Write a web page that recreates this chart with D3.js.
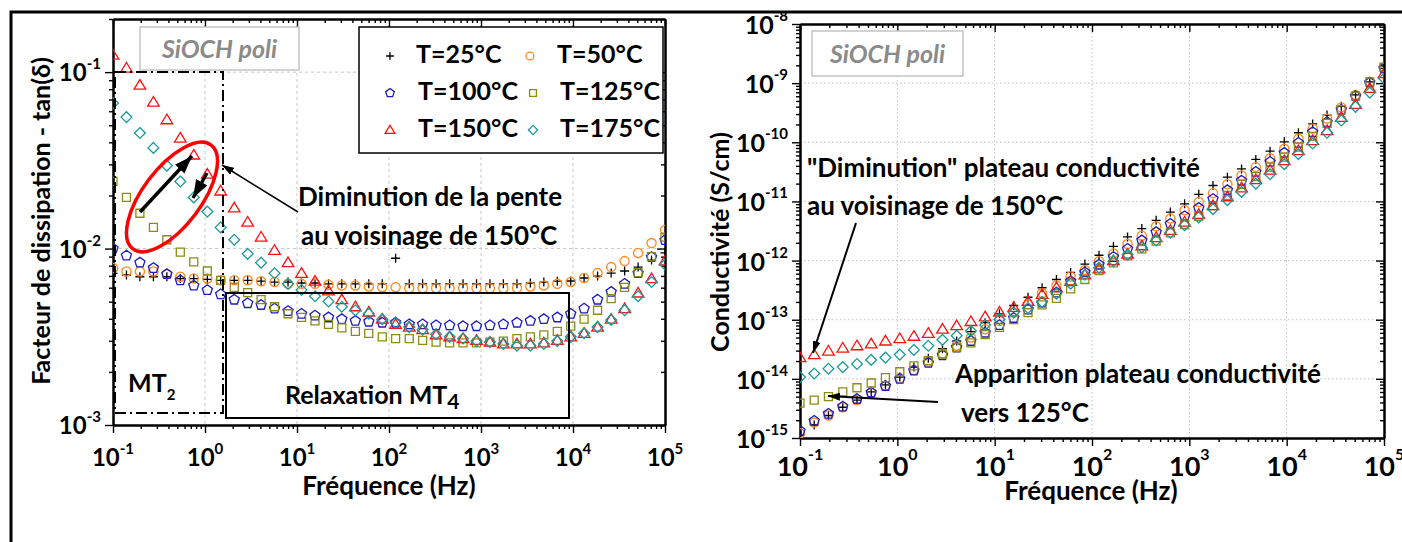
<!DOCTYPE html>
<html><head><meta charset="utf-8">
<script src="https://cdn.jsdelivr.net/npm/d3@7"></script>
<style>
body{margin:0;background:#fff}
svg{display:block}
text{font-family:Lato,"Open Sans",sans-serif;font-weight:bold;fill:#000}
</style>
</head><body>
<svg id="c" width="1402" height="542"></svg>
<script>
// ---------- DATA ----------
const freq = [0.1,0.14,0.196,0.275,0.385,0.539,0.755,1.06,1.48,2.08,2.91,4.07,5.7,7.99,11.2,15.7,22,30.7,43.1,60.3,84.5,118,166,232,325,456,638,894,1250,1750,2460,3440,4820,6750,9450,13200,18500,26000,36400,51000,71400,100000];
const seriesNames = ["T=25°C","T=50°C","T=100°C","T=125°C","T=150°C","T=175°C"];

// dissipation factor tan(delta)
const tan25  = [0.00724,0.00708,0.00692,0.00692,0.00692,0.00676,0.00676,0.00668,0.00661,0.00661,0.00661,0.00653,0.00646,0.00646,0.00638,0.00638,0.00631,0.00631,0.00631,0.00631,0.00631,0.00881,0.00631,0.00631,0.00631,0.00631,0.00631,0.00631,0.00631,0.00631,0.00631,0.00638,0.00646,0.00653,0.00655,0.00681,0.00698,0.00726,0.00746,0.00785,0.00861,0.00944];
const tan50  = [0.00776,0.00741,0.00741,0.00741,0.00716,0.00692,0.00676,0.00676,0.00661,0.00661,0.00661,0.00653,0.00646,0.00631,0.00631,0.00631,0.00624,0.00617,0.00617,0.00610,0.00603,0.00603,0.00596,0.00596,0.00596,0.00596,0.00596,0.00596,0.00596,0.00596,0.00596,0.00610,0.00617,0.00631,0.00646,0.00681,0.00726,0.00785,0.00849,0.00944,0.01074,0.01274];
const tan100 = [0.0100,0.00912,0.00832,0.00776,0.00716,0.00661,0.00617,0.00582,0.00550,0.00513,0.00490,0.00479,0.00457,0.00442,0.00427,0.00417,0.00407,0.00398,0.00389,0.00385,0.00380,0.00380,0.00372,0.00372,0.00367,0.00367,0.00363,0.00363,0.00367,0.00372,0.00380,0.00389,0.00398,0.00407,0.00427,0.00457,0.00513,0.00568,0.00631,0.00726,0.00895,0.01117];
const tan125 = [0.0240,0.0195,0.01585,0.01318,0.01122,0.00955,0.00841,0.00746,0.00661,0.00603,0.00562,0.00513,0.00468,0.00427,0.00407,0.00389,0.00372,0.00355,0.00339,0.00331,0.00316,0.00309,0.00309,0.00302,0.00295,0.00292,0.00292,0.00292,0.00295,0.00299,0.00309,0.00316,0.00324,0.00339,0.00363,0.00398,0.00447,0.00520,0.00603,0.00730,0.00899,0.01161];
const tan150 = [0.1247,0.1054,0.0843,0.0676,0.0537,0.0423,0.0339,0.0264,0.0212,0.0170,0.01413,0.01161,0.00977,0.00832,0.00724,0.00653,0.00575,0.00513,0.00468,0.00437,0.00398,0.00372,0.00359,0.00347,0.00324,0.00316,0.00309,0.00302,0.00295,0.00288,0.00288,0.00288,0.00292,0.00302,0.00316,0.00331,0.00359,0.00398,0.00457,0.00560,0.00676,0.00851];
const tan175 = [0.0667,0.0556,0.0452,0.0372,0.0295,0.0240,0.0195,0.0162,0.01318,0.01122,0.00933,0.00832,0.00724,0.00631,0.00582,0.00537,0.00501,0.00468,0.00447,0.00427,0.00398,0.00380,0.00359,0.00347,0.00327,0.00316,0.00309,0.00299,0.00295,0.00288,0.00282,0.00282,0.00288,0.00299,0.00316,0.00331,0.00359,0.00394,0.00447,0.00537,0.00646,0.00813];

// conductivity (S/cm)
const sig25  = [1.12e-15,1.66e-15,2.40e-15,3.31e-15,4.37e-15,6.03e-15,7.94e-15,1.07e-14,1.58e-14,2.24e-14,3.24e-14,4.37e-14,6.31e-14,8.91e-14,1.26e-13,1.74e-13,2.40e-13,3.47e-13,4.79e-13,6.31e-13,8.71e-13,1.23e-12,1.74e-12,2.51e-12,3.47e-12,4.79e-12,6.61e-12,9.12e-12,1.32e-11,1.86e-11,2.57e-11,3.55e-11,5.13e-11,7.08e-11,1.02e-10,1.45e-10,2.04e-10,2.88e-10,4.07e-10,6.31e-10,1.05e-9,1.78e-9];
const sig50  = [1.20e-15,1.82e-15,2.40e-15,3.31e-15,4.37e-15,5.75e-15,7.59e-15,1.02e-14,1.41e-14,1.95e-14,2.69e-14,3.63e-14,5.01e-14,6.92e-14,9.55e-14,1.32e-13,1.82e-13,2.82e-13,3.80e-13,5.37e-13,6.92e-13,9.77e-13,1.32e-12,1.91e-12,2.63e-12,3.80e-12,5.13e-12,7.08e-12,9.77e-12,1.38e-11,1.95e-11,2.75e-11,3.80e-11,5.37e-11,7.76e-11,1.15e-10,1.70e-10,2.51e-10,3.89e-10,6.31e-10,1.05e-9,1.86e-9];
const sig100 = [1.32e-15,1.95e-15,2.57e-15,3.39e-15,4.57e-15,5.89e-15,7.59e-15,1.00e-14,1.38e-14,1.86e-14,2.51e-14,3.39e-14,4.37e-14,6.03e-14,8.13e-14,1.07e-13,1.48e-13,1.95e-13,2.88e-13,4.47e-13,6.31e-13,8.51e-13,1.15e-12,1.58e-12,2.19e-12,3.02e-12,4.17e-12,5.62e-12,7.76e-12,1.10e-11,1.55e-11,2.24e-11,3.16e-11,4.68e-11,6.61e-11,9.77e-11,1.48e-10,2.19e-10,3.55e-10,6.03e-10,1.02e-9,1.78e-9];
const sig125 = [3.89e-15,4.37e-15,5.01e-15,6.03e-15,7.08e-15,8.51e-15,1.05e-14,1.32e-14,1.66e-14,2.04e-14,2.63e-14,3.39e-14,4.07e-14,5.62e-14,7.41e-14,1.00e-13,1.32e-13,1.78e-13,2.29e-13,3.31e-13,4.79e-13,6.76e-13,9.12e-13,1.20e-12,1.58e-12,2.14e-12,2.95e-12,4.07e-12,5.62e-12,8.51e-12,1.26e-11,1.95e-11,2.63e-11,3.80e-11,5.62e-11,8.32e-11,1.26e-10,2.09e-10,3.55e-10,6.03e-10,1.05e-9,1.86e-9];
const sig150 = [2.29e-14,2.57e-14,2.95e-14,3.31e-14,3.63e-14,3.89e-14,4.37e-14,4.79e-14,5.25e-14,5.89e-14,6.92e-14,7.94e-14,9.33e-14,1.12e-13,1.35e-13,1.62e-13,2.04e-13,2.69e-13,3.47e-13,4.47e-13,5.75e-13,7.24e-13,1.00e-12,1.29e-12,1.78e-12,2.45e-12,3.24e-12,4.47e-12,6.03e-12,8.51e-12,1.20e-11,1.70e-11,2.34e-11,3.39e-11,4.90e-11,7.24e-11,1.07e-10,1.58e-10,2.63e-10,4.37e-10,8.13e-10,1.45e-9];
const sig175 = [1.07e-14,1.23e-14,1.48e-14,1.58e-14,1.78e-14,2.09e-14,2.29e-14,2.57e-14,3.09e-14,3.63e-14,4.57e-14,5.37e-14,6.46e-14,8.13e-14,1.02e-13,1.32e-13,1.58e-13,2.00e-13,2.75e-13,4.07e-13,5.75e-13,7.59e-13,9.77e-13,1.26e-12,1.66e-12,2.19e-12,2.95e-12,3.98e-12,5.37e-12,7.41e-12,1.05e-11,1.45e-11,2.00e-11,2.88e-11,4.27e-11,6.31e-11,9.55e-11,1.45e-10,2.34e-10,3.98e-10,6.92e-10,1.20e-9];

const xTickExps = [-1,0,1,2,3,4,5];
const yTickExpsLeft = [-3,-2,-1];
const yTickExpsRight = [-15,-14,-13,-12,-11,-10,-9,-8];

// ---------- STYLE ----------
const styles = [
  {shape:"plus",     color:"#000000"},
  {shape:"circle",   color:"#ff8a1f"},
  {shape:"pentagon", color:"#1c1cc4"},
  {shape:"square",   color:"#8c8c14"},
  {shape:"triangle", color:"#ff1010"},
  {shape:"diamond",  color:"#1a9a9a"}
];
function symPath(shape, k){
  k = k || 1;
  switch(shape){
    case "plus": { const s=4.5*k; return `M${-s},0H${s}M0,${-s}V${s}`; }
    case "circle": { const r=4.6*k; return `M${r},0A${r},${r} 0 1,1 ${-r},0A${r},${r} 0 1,1 ${r},0Z`; }
    case "pentagon": { const r=5.3*k; let p=""; for(let i=0;i<5;i++){const a=-Math.PI/2+i*2*Math.PI/5; p+=(i?"L":"M")+(r*Math.cos(a)).toFixed(2)+","+(r*Math.sin(a)).toFixed(2);} return p+"Z"; }
    case "square": { const h=4*k; return `M${-h},${-h}H${h}V${h}H${-h}Z`; }
    case "triangle": { const a=5.6*k, b=5.8*k, c=4*k; return `M0,${-a}L${b},${c}L${-b},${c}Z`; }
    case "diamond": { const d=5.4*k; return `M0,${-d}L${d},0L0,${d}L${-d},0Z`; }
  }
}

const svg = d3.select("#c");
svg.append("rect").attr("width",1402).attr("height",542).attr("fill","#fff");
const defs = svg.append("defs");
function arrowMarker(id, w, h){
  defs.append("marker").attr("id",id).attr("markerUnits","userSpaceOnUse")
    .attr("markerWidth",w).attr("markerHeight",h).attr("refX",w).attr("refY",h/2)
    .attr("orient","auto").append("path").attr("d",`M0,0L${w},${h/2}L0,${h}Z`).attr("fill","#000");
}
arrowMarker("ah", 12, 8);
arrowMarker("ahBig", 18, 13);

function minorTicks(e0, e1){
  const out=[];
  for(let e=e0;e<e1;e++) for(let m=2;m<=9;m++) out.push(m*Math.pow(10,e));
  return out;
}

function panel(o){
  const g = svg.append("g");
  const x = d3.scaleLog().domain([0.1,1e5]).range([o.x0,o.x1]);
  const y = d3.scaleLog().domain(o.ydom).range([o.y1,o.y0]);
  const majX = xTickExps.map(e=>Math.pow(10,e));
  const minX = minorTicks(-1,5);
  const majY = o.yExps.map(e=>Math.pow(10,e));
  const minY = minorTicks(Math.floor(Math.log10(o.ydom[0])), Math.ceil(Math.log10(o.ydom[1]))).filter(v=>v>=o.ydom[0]&&v<=o.ydom[1]);

  // grid
  const grid = g.append("g").attr("stroke",o.gridColor).attr("stroke-width",1).attr("stroke-dasharray",o.gridDash);
  majX.filter(v=>v>0.1&&v<1e5).forEach(v=>grid.append("line").attr("x1",x(v)).attr("x2",x(v)).attr("y1",o.y0).attr("y2",o.y1));
  majY.filter(v=>y(v)>o.y0+2&&y(v)<o.y1-2).forEach(v=>grid.append("line").attr("y1",y(v)).attr("y2",y(v)).attr("x1",o.x0).attr("x2",o.x1));

  // axes
  function ax(axisGen, transform, vals, size){
    const a = g.append("g").attr("transform",transform)
      .call(axisGen.tickValues(vals).tickSizeInner(size).tickSizeOuter(0).tickFormat(""));
    a.selectAll(".tick line").attr("stroke","#000").attr("stroke-width",1.4);
    a.select(".domain").attr("stroke","#000").attr("stroke-width",2);
    return a;
  }
  ax(d3.axisBottom(x), `translate(0,${o.y1})`, majX, 8);
  ax(d3.axisBottom(x), `translate(0,${o.y1})`, minX, 4);
  ax(d3.axisTop(x), `translate(0,${o.y0})`, majX, -8);
  ax(d3.axisTop(x), `translate(0,${o.y0})`, minX, -4);
  ax(d3.axisLeft(y), `translate(${o.x0},0)`, majY, 8);
  ax(d3.axisLeft(y), `translate(${o.x0},0)`, minY, 4);
  ax(d3.axisRight(y), `translate(${o.x1},0)`, majY, -8);
  ax(d3.axisRight(y), `translate(${o.x1},0)`, minY, -4);

  // tick labels
  majX.forEach((v,i)=>{
    const t = g.append("text").attr("x",x(v)).attr("y",o.xLabY).attr("text-anchor","middle").style("font-size",o.xfs+"px");
    t.append("tspan").text("10");
    t.append("tspan").attr("dy",o.xSupDy).style("font-size",o.xsfs+"px").text(xTickExps[i]);
  });
  majY.forEach((v,i)=>{
    const t = g.append("text").attr("x",o.yLabX).attr("y",y(v)+o.yLabOff).attr("text-anchor","end").style("font-size",o.yfs+"px");
    t.append("tspan").text("10");
    t.append("tspan").attr("dy",o.ySupDy).style("font-size",o.ysfs+"px").text(o.yExps[i]);
  });
  // axis titles
  g.append("text").attr("x",o.xTitleX).attr("y",o.xTitleY).attr("text-anchor","middle").style("font-size",o.xTitleFs+"px").text("Fréquence (Hz)");
  g.append("text").attr("transform",`translate(${o.yTitleX},${o.yTitleY}) rotate(-90)`).attr("text-anchor","middle").style("font-size",o.yTitleFs+"px").text(o.yTitle);

  // data
  const cid = "clip"+o.id;
  defs.append("clipPath").attr("id",cid).append("rect").attr("x",o.x0).attr("y",o.y0).attr("width",o.x1-o.x0).attr("height",o.y1-o.y0);
  const dg = g.append("g").attr("clip-path",`url(#${cid})`);
  o.series.forEach((vals,si)=>{
    const st = styles[si];
    dg.append("g").selectAll("path").data(vals.map((v,i)=>[freq[i],v])).join("path")
      .attr("transform",d=>`translate(${x(d[0])},${y(d[1])})`)
      .attr("d",symPath(st.shape,o.symK))
      .attr("fill","none").attr("stroke",st.color).attr("stroke-width",1.3);
  });
  return {g,x,y};
}

function sampleBox(x0,y0,x1,y1){
  svg.append("rect").attr("x",x0).attr("y",y0).attr("width",x1-x0).attr("height",y1-y0)
    .attr("fill","#fff").attr("stroke","#c4c4c4").attr("stroke-width",1.5);
  svg.append("text").attr("x",(x0+x1)/2).attr("y",(y0+y1)/2+9).attr("text-anchor","middle")
    .style("font-size","25px").style("font-style","italic").style("fill","#8a8a8a").text("SiOCH poli");
}

// ---------- LEFT PANEL ----------
const L = panel({id:"L", x0:113, x1:665, y0:19, y1:425, ydom:[1e-3,0.2], yExps:yTickExpsLeft,
  gridColor:"#c8c8c8", gridDash:"3,3",
  xLabY:466, xfs:24, xsfs:15, xSupDy:-12,
  yLabX:101, yLabOff:9, yfs:24, ysfs:15, ySupDy:-12,
  xTitleX:389, xTitleY:495, xTitleFs:26, yTitleX:50, yTitleY:221, yTitleFs:25,
  yTitle:"Facteur de dissipation - tan(δ)",
  series:[tan25,tan50,tan100,tan125,tan150,tan175], symK:1});

// MT2 dash-dot box
svg.append("rect").attr("x",115).attr("y",72).attr("width",108).attr("height",341)
  .attr("fill","none").attr("stroke","#000").attr("stroke-width",2).attr("stroke-dasharray","11,4,2,4");
// Relaxation MT4 box
svg.append("rect").attr("x",226).attr("y",293).attr("width",343).attr("height",125)
  .attr("fill","none").attr("stroke","#000").attr("stroke-width",2);
{
  const t = svg.append("text").attr("x",128).attr("y",392).style("font-size","25px");
  t.append("tspan").text("MT");
  t.append("tspan").attr("dy",8).style("font-size","15px").text("2");
  const r = svg.append("text").attr("x",285).attr("y",404).style("font-size","25px");
  r.append("tspan").text("Relaxation MT");
  r.append("tspan").attr("dy",5).style("font-size","21px").text("4");
}
sampleBox(140,27,299,70);

// legend
{
  const lg = svg.append("g");
  lg.append("rect").attr("x",359).attr("y",27).attr("width",304).attr("height",126).attr("fill","#fff").attr("stroke","#000").attr("stroke-width",1.5);
  const pos = [[390,416,63],[530,557,63],[390,418,100],[533,560,100],[390,418,137],[533,560,137]];
  seriesNames.forEach((n,i)=>{
    const [sx,tx,ty]=pos[i];
    lg.append("path").attr("transform",`translate(${sx},${ty-7})`).attr("d",symPath(styles[i].shape,0.85))
      .attr("fill","none").attr("stroke",styles[i].color).attr("stroke-width",1.3);
    lg.append("text").attr("x",tx).attr("y",ty).style("font-size","25px").text(n);
  });
}
// ellipse + arrows
svg.append("ellipse").attr("cx",172).attr("cy",197).attr("rx",65).attr("ry",29)
  .attr("transform","rotate(-53,172,197)").attr("fill","none").attr("stroke","#ff0000").attr("stroke-width",3.5);
svg.append("line").attr("x1",140).attr("y1",212).attr("x2",192).attr("y2",156).attr("stroke","#000").attr("stroke-width",3.5).attr("marker-end","url(#ahBig)");
svg.append("line").attr("x1",207).attr("y1",173).attr("x2",193).attr("y2",198).attr("stroke","#000").attr("stroke-width",3.5).attr("marker-end","url(#ahBig)");
svg.append("line").attr("x1",298).attr("y1",212).attr("x2",222).attr("y2",165).attr("stroke","#000").attr("stroke-width",1.5).attr("marker-end","url(#ah)");
svg.append("text").attr("x",298).attr("y",206).style("font-size","26px").text("Diminution de la pente");
svg.append("text").attr("x",301).attr("y",245).style("font-size","26px").text("au voisinage de 150°C");

// ---------- RIGHT PANEL ----------
const R = panel({id:"R", x0:800, x1:1384, y0:24, y1:438, ydom:[1e-15,1e-8], yExps:yTickExpsRight,
  gridColor:"#c0c0c0", gridDash:"1.5,2.5",
  xLabY:476, xfs:27, xsfs:16, xSupDy:-16,
  yLabX:788, yLabOff:10, yfs:25, ysfs:15, ySupDy:-13,
  xTitleX:1091, xTitleY:500, xTitleFs:26, yTitleX:729, yTitleY:242, yTitleFs:25,
  yTitle:"Conductivité (S/cm)",
  series:[sig25,sig50,sig100,sig125,sig150,sig175], symK:1});
sampleBox(812,31,963,76);
svg.append("text").attr("x",807).attr("y",177).style("font-size","26px").text("\"Diminution\" plateau conductivité");
svg.append("text").attr("x",807).attr("y",215).style("font-size","26px").text("au voisinage de 150°C");
svg.append("line").attr("x1",856).attr("y1",223).attr("x2",813).attr("y2",353).attr("stroke","#000").attr("stroke-width",2).attr("marker-end","url(#ah)");
svg.append("text").attr("x",955).attr("y",383).style("font-size","26px").text("Apparition plateau conductivité");
svg.append("text").attr("x",961).attr("y",422).style("font-size","26px").text("vers 125°C");
svg.append("line").attr("x1",938).attr("y1",402).attr("x2",828).attr("y2",396).attr("stroke","#000").attr("stroke-width",2).attr("marker-end","url(#ah)");

// ---------- FRAME ----------
svg.append("rect").attr("x",0).attr("y",0).attr("width",1402).attr("height",11).attr("fill","#fff");
svg.append("path").attr("d","M11,542V12H1402").attr("fill","none").attr("stroke","#000").attr("stroke-width",3);
</script>
</body></html>
